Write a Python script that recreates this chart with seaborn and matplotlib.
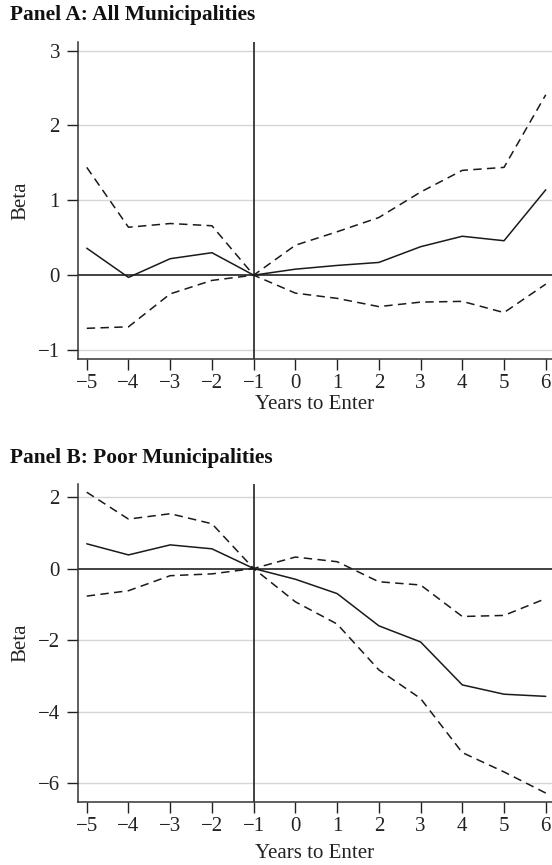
import numpy as np
import pandas as pd
import matplotlib
matplotlib.use("Agg")
import matplotlib.pyplot as plt
import seaborn as sns

years = [-5, -4, -3, -2, -1, 0, 1, 2, 3, 4, 5, 6]

# Panel A: All Municipalities
a_beta = [0.36, -0.03, 0.22, 0.30, 0.0, 0.08, 0.13, 0.17, 0.38, 0.52, 0.46, 1.14]
a_upper = [1.44, 0.64, 0.69, 0.66, 0.0, 0.40, 0.58, 0.77, 1.11, 1.40, 1.44, 2.41]
a_lower = [-0.71, -0.69, -0.25, -0.07, 0.0, -0.24, -0.31, -0.42, -0.36, -0.35, -0.50, -0.12]

# Panel B: Poor Municipalities
b_beta = [0.69, 0.38, 0.66, 0.55, 0.0, -0.30, -0.70, -1.60, -2.05, -3.25, -3.51, -3.57]
b_upper = [2.13, 1.38, 1.53, 1.25, 0.0, 0.32, 0.19, -0.37, -0.46, -1.34, -1.31, -0.84]
b_lower = [-0.77, -0.62, -0.20, -0.15, 0.0, -0.93, -1.55, -2.83, -3.63, -5.14, -5.68, -6.27]

a_yticks = [-1, 0, 1, 2, 3]
b_yticks = [-6, -4, -2, 0, 2]

sns.set_theme(style="white")
plt.rcParams['font.family'] = ['Liberation Serif', 'DejaVu Serif']
plt.rcParams['axes.unicode_minus'] = True

FS = 15
fig = plt.figure(figsize=(5.52, 8.65), dpi=100)

def make_df(beta, upper, lower):
    rows = []
    for name, vals in (("beta", beta), ("upper", upper), ("lower", lower)):
        for x, v in zip(years, vals):
            rows.append({"year": x, "value": v, "series": name})
    return pd.DataFrame(rows)

def panel(rect, beta, upper, lower, yticks, ylim, title, title_y, xlabelpad):
    ax = fig.add_axes(rect)
    df = make_df(beta, upper, lower)
    for y in yticks:
        if y != 0:
            ax.axhline(y, color="#d6d6d6", lw=1.0, zorder=0)
    ax.axhline(0, color="#333333", lw=1.3, zorder=1)
    ax.axvline(-1, color="#333333", lw=1.3, zorder=1)
    sns.lineplot(data=df[df.series == "beta"], x="year", y="value", ax=ax,
                 color="#1a1a1a", lw=1.1, zorder=3)
    for s in ("upper", "lower"):
        sns.lineplot(data=df[df.series == s], x="year", y="value", ax=ax,
                     color="#1a1a1a", lw=1.1, linestyle=(0, (5.5, 3.5)), zorder=3)
    ax.set_xlim(-5.21, 6.15)
    ax.set_ylim(*ylim)
    ax.set_xticks(years)
    ax.set_yticks(yticks)
    ax.set_xticklabels([("\u2212" + str(-x)) if x < 0 else str(x) for x in years])
    ax.set_yticklabels([("\u2212" + str(-y)) if y < 0 else str(y) for y in yticks])
    ax.tick_params(axis="both", labelsize=FS, colors="#222222", length=8, width=1.0,
                   direction="out", bottom=True, left=True)
    ax.tick_params(axis="x", pad=2.5)
    ax.tick_params(axis="y", pad=5)
    for sp in ("top", "right"):
        ax.spines[sp].set_visible(False)
    for sp in ("left", "bottom"):
        ax.spines[sp].set_color("#333333")
        ax.spines[sp].set_linewidth(1.1)
    ax.set_xlabel("Years to Enter", fontsize=FS, color="#222222", labelpad=xlabelpad)
    ax.set_ylabel("Beta", fontsize=FS, color="#222222", labelpad=5)
    ax.set_facecolor("white")
    fig.text(10 / 552, 1 - title_y / 865, title, fontsize=15.4, fontweight="bold",
             ha="left", va="center", color="#111111")
    return ax

panel([78 / 552, 1 - 359 / 865, 1 - 78 / 552, 317 / 865], a_beta, a_upper, a_lower,
      a_yticks, (-1.12, 3.115), "Panel A: All Municipalities", 15, 2)
panel([78 / 552, 1 - 802 / 865, 1 - 78 / 552, 318 / 865], b_beta, b_upper, b_lower,
      b_yticks, (-6.52, 2.36), "Panel B: Poor Municipalities", 458, 6)

fig.savefig("out.png", dpi=100, facecolor="white")
